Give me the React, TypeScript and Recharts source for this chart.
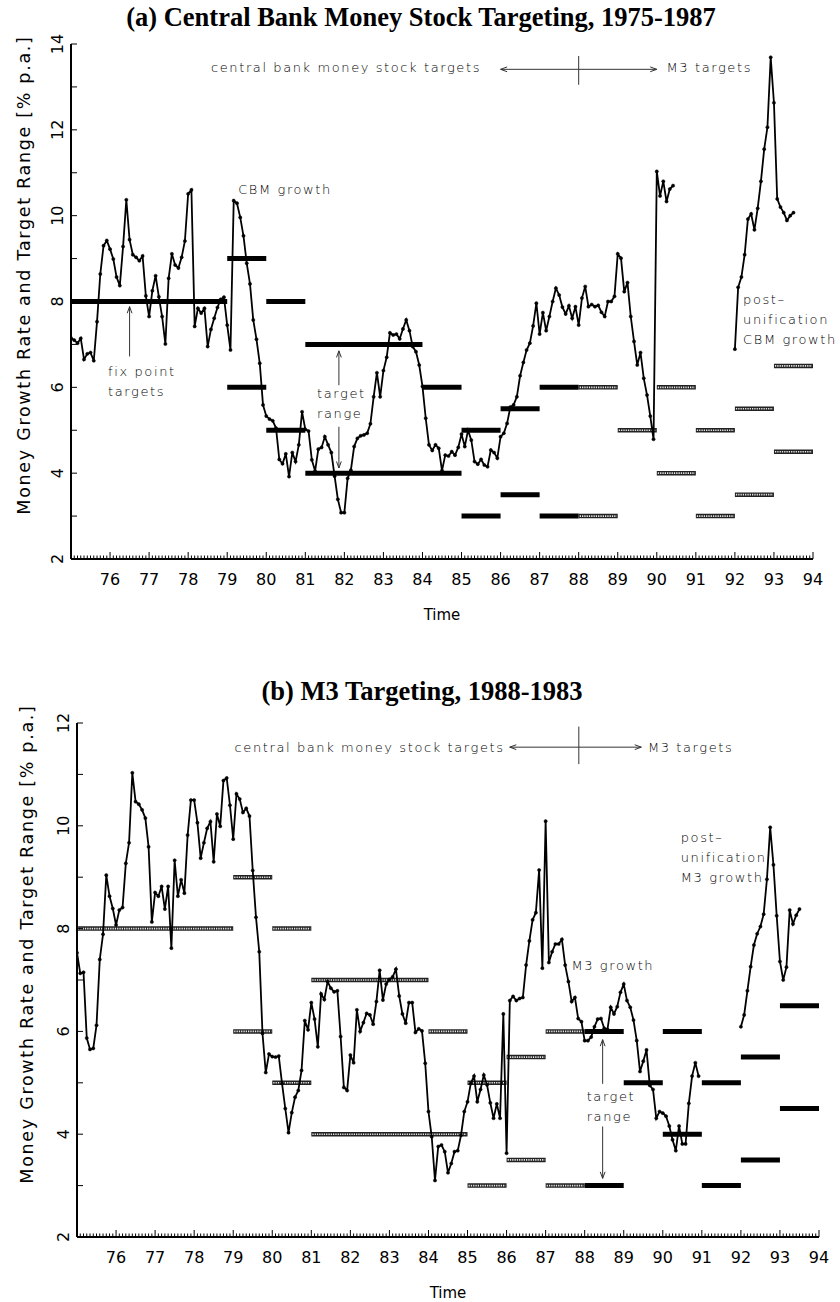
import React from 'react'
import { ComposedChart, Line, XAxis, YAxis, ReferenceLine, ReferenceDot } from 'recharts'

// monthly growth rates in % p.a.
// central bank money, Jan 1975 - Jun 1990
const cbmGrowth = [
  7.15, 7.1, 7.03, 7.14, 6.65, 6.78, 6.81, 6.62, 7.53, 8.64, 9.3, 9.42,
  9.22, 8.99, 8.57, 8.37, 9.28, 10.37, 9.44, 9.09, 9.03, 8.95, 9.06, 8.13,
  7.65, 8.25, 8.6, 8.11, 7.65, 7.01, 8.54, 9.11, 8.85, 8.78, 9.03, 9.41,
  10.51, 10.6, 7.42, 7.84, 7.73, 7.84, 6.95, 7.35, 7.61, 7.86, 8.05, 8.1,
  7.45, 6.87, 10.35, 10.29, 9.96, 9.53, 8.89, 8.41, 7.57, 7.12, 6.56, 5.59,
  5.33, 5.26, 5.22, 5.05, 4.32, 4.22, 4.45, 3.92, 4.48, 4.27, 4.66, 5.43,
  5.02, 4.98, 4.31, 4.05, 4.56, 4.6, 4.85, 4.66, 4.48, 3.93, 3.39, 3.08,
  3.08, 3.88, 4.07, 4.62, 4.81, 4.87, 4.89, 4.93, 5.15, 5.78, 6.34, 5.78,
  6.39, 6.7, 7.27, 7.22, 7.24, 7.13, 7.36, 7.57, 7.32, 6.95, 6.83, 6.52,
  6.02, 5.28, 4.66, 4.53, 4.66, 4.58, 4.06, 4.42, 4.4, 4.5, 4.42, 4.6,
  4.91, 4.62, 5.0, 4.77, 4.27, 4.21, 4.32, 4.19, 4.15, 4.54, 4.48, 4.35,
  4.85, 4.93, 5.16, 5.54, 5.59, 5.78, 6.27, 6.58, 6.87, 7.03, 7.43, 7.96,
  7.24, 7.74, 7.32, 7.65, 8.0, 8.31, 8.15, 7.87, 7.71, 7.9, 7.61, 7.88,
  7.45, 8.08, 8.35, 7.88, 7.93, 7.88, 7.91, 7.75, 7.65, 8.0, 8.0, 8.12,
  9.11, 9.01, 8.23, 8.44, 7.65, 7.07, 6.52, 6.81, 6.21, 5.82, 5.33, 4.79,
  11.03, 10.46, 10.8, 10.33, 10.62, 10.7
]
// post-unification central bank money, Jan 1992 - Jul 1993
const cbmGrowthPost = [
  6.89, 8.33, 8.57, 9.09, 9.92, 10.04, 9.67, 10.17, 10.8, 11.55, 12.06, 13.69,
  12.63, 10.39, 10.2, 10.07, 9.89, 10.0, 10.07
]
// M3, Jan 1975 - Dec 1990
const m3Growth = [
  7.53, 7.13, 7.15, 5.87, 5.65, 5.67, 6.12, 7.4, 7.89, 9.04, 8.63, 8.39,
  8.07, 8.36, 8.41, 9.27, 9.67, 11.03, 10.47, 10.42, 10.31, 10.15, 9.59, 8.13,
  8.7, 8.63, 8.82, 8.38, 8.82, 7.62, 9.33, 8.63, 8.95, 8.69, 9.82, 10.5,
  10.5, 10.06, 9.37, 9.67, 9.95, 10.08, 9.3, 10.23, 9.99, 10.88, 10.93, 10.4,
  9.74, 10.62, 10.52, 10.26, 10.34, 10.19, 9.13, 8.22, 7.55, 5.96, 5.2, 5.56,
  5.51, 5.5, 5.52, 4.99, 4.5, 4.03, 4.42, 4.72, 4.85, 5.24, 6.21, 6.03,
  6.56, 6.24, 5.7, 6.73, 6.62, 6.97, 6.84, 6.77, 6.79, 5.9, 4.91, 4.85,
  5.54, 5.39, 6.42, 6.0, 6.17, 6.35, 6.32, 6.14, 6.58, 7.19, 6.61, 6.92,
  7.01, 7.06, 7.21, 6.69, 6.34, 6.16, 6.56, 6.56, 5.98, 6.05, 6.01, 5.38,
  4.44, 3.95, 3.1, 3.76, 3.79, 3.66, 3.25, 3.43, 3.66, 3.68, 3.98, 4.44,
  4.63, 4.99, 5.13, 4.63, 4.87, 5.15, 4.96, 4.61, 4.31, 4.59, 4.31, 6.34,
  3.63, 6.6, 6.68, 6.6, 6.64, 6.66, 7.29, 7.76, 8.17, 8.31, 9.14, 7.23,
  10.09, 7.34, 7.55, 7.7, 7.7, 7.79, 7.29, 6.97, 6.58, 6.66, 6.25, 6.19,
  5.82, 5.82, 5.89, 6.09, 6.24, 6.25, 6.06, 6.04, 6.47, 6.34, 6.48, 6.76,
  6.92, 6.6, 6.47, 6.22, 5.82, 5.22, 5.42, 5.64, 4.95, 4.87, 4.31, 4.44,
  4.41, 4.35, 4.16, 3.89, 3.68, 4.16, 3.81, 3.81, 4.6, 5.13, 5.39, 5.13
]
// post-unification M3, Jan 1992 - Jul 1993
const m3GrowthPost = [
  6.09, 6.32, 6.79, 7.26, 7.68, 7.9, 8.04, 8.28, 8.96, 9.97, 9.24, 8.25,
  7.36, 7.0, 7.25, 8.36, 8.09, 8.26, 8.38
]

type Target = { from: number; to: number; levels: number[] }

const cbmTargets: Target[] = [
  { from: 75, to: 79, levels: [8] },
  { from: 79, to: 80, levels: [9, 6] },
  { from: 80, to: 81, levels: [8, 5] },
  { from: 81, to: 84, levels: [7] },
  { from: 81, to: 85, levels: [4] },
  { from: 84, to: 85, levels: [6] },
  { from: 85, to: 86, levels: [5, 3] },
  { from: 86, to: 87, levels: [5.5, 3.5] },
  { from: 87, to: 88, levels: [6, 3] }
]
const m3Targets: Target[] = [
  { from: 88, to: 89, levels: [6, 3] },
  { from: 89, to: 90, levels: [5] },
  { from: 90, to: 91, levels: [6, 4] },
  { from: 91, to: 92, levels: [5, 3] },
  { from: 92, to: 93, levels: [5.5, 3.5] },
  { from: 93, to: 94, levels: [6.5, 4.5] }
]

const yearTicks = [75, 76, 77, 78, 79, 80, 81, 82, 83, 84, 85, 86, 87, 88, 89, 90, 91, 92, 93, 94]
const monthTicks = yearTicks.flatMap((y) => (y === 94 ? [94] : Array.from({ length: 12 }, (_, m) => y + m / 12)))
const yTicksA = [2, 3, 4, 5, 6, 7, 8, 9, 10, 11, 12, 13, 14]
const yTicksB = [2, 3, 4, 5, 6, 7, 8, 9, 10, 11, 12]

const SANS = '"DejaVu Sans", sans-serif'
const tickStyle = { fontFamily: SANS, fontSize: 16, fill: '#000' }
const noteStyle = { fontFamily: SANS, fontSize: 13, fontWeight: 300, letterSpacing: 1.6, fill: '#000' }

const monthly = (values: number[], start: number) => values.map((v, i) => ({ t: start + i / 12, v }))

const XTick = (p: any) => {
  const v = p.payload.value
  const year = Math.round(v)
  const major = Math.abs(v - year) < 1e-6
  return (
    <g>
      <line x1={p.x} x2={p.x} y1={p.y} y2={p.y - (major ? 7 : 3.5)} stroke="#000" strokeWidth={1} />
      {major && year > 75 && (
        <text x={p.x} y={p.y + 26} textAnchor="middle" style={tickStyle}>{year}</text>
      )}
    </g>
  )
}

const YTick = (p: any) => {
  const v = p.payload.value
  const bx = p.x - 8
  return (
    <g>
      <line x1={p.x} x2={p.x + 6} y1={p.y} y2={p.y} stroke="#000" strokeWidth={1} />
      {v % 2 === 0 && (
        <text x={bx} y={p.y} transform={`rotate(-90 ${bx} ${p.y})`} textAnchor="middle" style={tickStyle}>{v}</text>
      )}
    </g>
  )
}

const SolidBar = (p: any) => (
  <line x1={p.x1} y1={p.y1} x2={p.x2} y2={p.y2} stroke="#000" strokeWidth={5} />
)
const HatchedBar = (p: any) => (
  <g>
    <line x1={p.x1} y1={p.y1} x2={p.x2} y2={p.y2} stroke="#222" strokeWidth={4.5} />
    <line x1={p.x1 + 1} y1={p.y1} x2={p.x2 - 1} y2={p.y2} stroke="#e6e6e6" strokeWidth={1.6} strokeDasharray="1.3 1" />
  </g>
)

const arrowShape = (head: boolean) => (p: any) => {
  const { x1, y1, x2, y2 } = p
  const a = Math.atan2(y2 - y1, x2 - x1)
  const len = 7
  const s = 0.35
  const h1 = `${x2 - len * Math.cos(a - s)},${y2 - len * Math.sin(a - s)}`
  const h2 = `${x2 - len * Math.cos(a + s)},${y2 - len * Math.sin(a + s)}`
  return (
    <g>
      <line x1={x1} y1={y1} x2={x2} y2={y2} stroke="#333" strokeWidth={1} />
      {head && <polyline points={`${h1} ${x2},${y2} ${h2}`} fill="none" stroke="#333" strokeWidth={1} />}
    </g>
  )
}

const targetBars = (targets: Target[], hatched: boolean, prefix: string) =>
  targets.flatMap((tg, i) =>
    tg.levels.map((lv, j) => (
      <ReferenceLine
        key={`${prefix}-${i}-${j}`}
        segment={[{ x: tg.from, y: lv }, { x: tg.to, y: lv }]}
        shape={hatched ? HatchedBar : SolidBar}
      />
    ))
  )

const arrow = (key: string, x1: number, y1: number, x2: number, y2: number, head = true) => (
  <ReferenceLine key={key} segment={[{ x: x1, y: y1 }, { x: x2, y: y2 }]} shape={arrowShape(head)} />
)

const note = (key: string, x: number, y: number, lines: string[], anchor: 'start' | 'end' = 'start') => (
  <ReferenceDot
    key={key}
    x={x}
    y={y}
    r={0}
    shape={(p: any) => (
      <text x={p.cx} y={p.cy} textAnchor={anchor} style={noteStyle}>
        {lines.map((l, i) => (
          <tspan key={i} x={p.cx} dy={i === 0 ? 0 : 20}>{l}</tspan>
        ))}
      </text>
    )}
  />
)

type PanelProps = {
  height: number
  margin: { top: number; right: number; bottom: number; left: number }
  yAxisWidth: number
  yTicks: number[]
  main: number[]
  post: number[]
  solid: Target[]
  hatched: Target[]
  extras: React.ReactNode[]
}

function Panel({ height, margin, yAxisWidth, yTicks, main, post, solid, hatched, extras }: PanelProps) {
  return (
    <ComposedChart width={840} height={height} margin={margin}>
      <XAxis
        dataKey="t"
        type="number"
        domain={[75, 94]}
        ticks={monthTicks}
        interval={0}
        tickSize={0}
        tickMargin={0}
        tickLine={false}
        tick={<XTick />}
        axisLine={{ stroke: '#000', strokeWidth: 2 }}
        height={40}
        allowDataOverflow
      />
      <YAxis
        type="number"
        domain={[yTicks[0], yTicks[yTicks.length - 1]]}
        ticks={yTicks}
        interval={0}
        tickSize={0}
        tickMargin={0}
        tickLine={false}
        tick={<YTick />}
        axisLine={{ stroke: '#000', strokeWidth: 2 }}
        width={yAxisWidth}
        allowDataOverflow
      />
      {targetBars(solid, false, 'solid')}
      {targetBars(hatched, true, 'hatched')}
      {extras}
      <Line
        data={monthly(main, 75)}
        dataKey="v"
        type="linear"
        stroke="#000"
        strokeWidth={1.8}
        dot={{ r: 1.6, fill: '#000', stroke: '#000', strokeWidth: 0.5 }}
        isAnimationActive={false}
      />
      <Line
        data={monthly(post, 92)}
        dataKey="v"
        type="linear"
        stroke="#000"
        strokeWidth={1.8}
        dot={{ r: 1.6, fill: '#000', stroke: '#000', strokeWidth: 0.5 }}
        isAnimationActive={false}
      />
    </ComposedChart>
  )
}

const notesA = [
  note('a-top-l', 85.5, 13.34, ['central bank money stock targets'], 'end'),
  arrow('a-arr-l', 88, 13.41, 86, 13.41),
  arrow('a-arr-r', 88, 13.41, 90, 13.41),
  arrow('a-sep', 88, 13.72, 88, 13.05, false),
  note('a-top-r', 90.25, 13.34, ['M3 targets']),
  note('a-cbm', 79.28, 10.51, ['CBM growth']),
  note('a-fix', 75.95, 6.27, ['fix point', 'targets']),
  arrow('a-fix-arr', 76.5, 6.72, 76.5, 7.88),
  note('a-range', 81.3, 5.75, ['target', 'range']),
  arrow('a-range-up', 81.86, 6.05, 81.86, 6.85),
  arrow('a-range-dn', 81.86, 5.08, 81.86, 4.12),
  note('a-post', 92.21, 7.94, ['post–', 'unification', 'CBM growth'])
]

const notesB = [
  note('b-top-l', 85.95, 11.44, ['central bank money stock targets'], 'end'),
  arrow('b-arr-l', 87.85, 11.53, 86.08, 11.53),
  arrow('b-arr-r', 87.85, 11.53, 89.45, 11.53),
  arrow('b-sep', 87.85, 11.93, 87.85, 11.2, false),
  note('b-top-r', 89.62, 11.44, ['M3 targets']),
  note('b-m3', 87.66, 7.19, ['M3 growth']),
  note('b-range', 88.05, 4.64, ['target', 'range']),
  arrow('b-range-up', 88.46, 4.98, 88.46, 5.84),
  arrow('b-range-dn', 88.46, 4.15, 88.46, 3.14),
  note('b-post', 90.46, 9.69, ['post–', 'unification', 'M3 growth'])
]

const titleStyle = { fontFamily: '"Liberation Serif", "Times New Roman", serif', fontWeight: 700, fontSize: 26.5, fill: '#000' }
const axisTitleStyle = { fontFamily: SANS, fontSize: 17.5, letterSpacing: 1.7, fill: '#000' }
const timeStyle = { fontFamily: SANS, fontSize: 15, fill: '#000' }

export default function App() {
  return (
    <div style={{ position: 'absolute', left: 0, top: 0, width: 840, height: 1302, background: '#fff', overflow: 'hidden' }}>
      <div style={{ position: 'absolute', left: 0, top: 0 }}>
        <Panel
          height={650}
          margin={{ top: 44, right: 27, bottom: 51, left: 0 }}
          yAxisWidth={71}
          yTicks={yTicksA}
          main={cbmGrowth}
          post={cbmGrowthPost}
          solid={cbmTargets}
          hatched={m3Targets}
          extras={notesA}
        />
      </div>
      <div style={{ position: 'absolute', left: 0, top: 660 }}>
        <Panel
          height={642}
          margin={{ top: 63, right: 21, bottom: 25, left: 0 }}
          yAxisWidth={77}
          yTicks={yTicksB}
          main={m3Growth}
          post={m3GrowthPost}
          solid={m3Targets}
          hatched={cbmTargets}
          extras={notesB}
        />
      </div>
      <svg width={840} height={1302} style={{ position: 'absolute', left: 0, top: 0, pointerEvents: 'none' }}>
        <text x={421} y={26} textAnchor="middle" style={titleStyle}>(a) Central Bank Money Stock Targeting, 1975-1987</text>
        <text x={422} y={700} textAnchor="middle" style={titleStyle}>(b) M3 Targeting, 1988-1983</text>
        <text x={30} y={275} transform="rotate(-90 30 275)" textAnchor="middle" style={axisTitleStyle}>
          Money Growth Rate and Target Range [% p.a.]
        </text>
        <text x={33} y={944} transform="rotate(-90 33 944)" textAnchor="middle" style={axisTitleStyle}>
          Money Growth Rate and Target Range [% p.a.]
        </text>
        <text x={442} y={620} textAnchor="middle" style={timeStyle}>Time</text>
        <text x={448} y={1298} textAnchor="middle" style={timeStyle}>Time</text>
      </svg>
    </div>
  )
}
